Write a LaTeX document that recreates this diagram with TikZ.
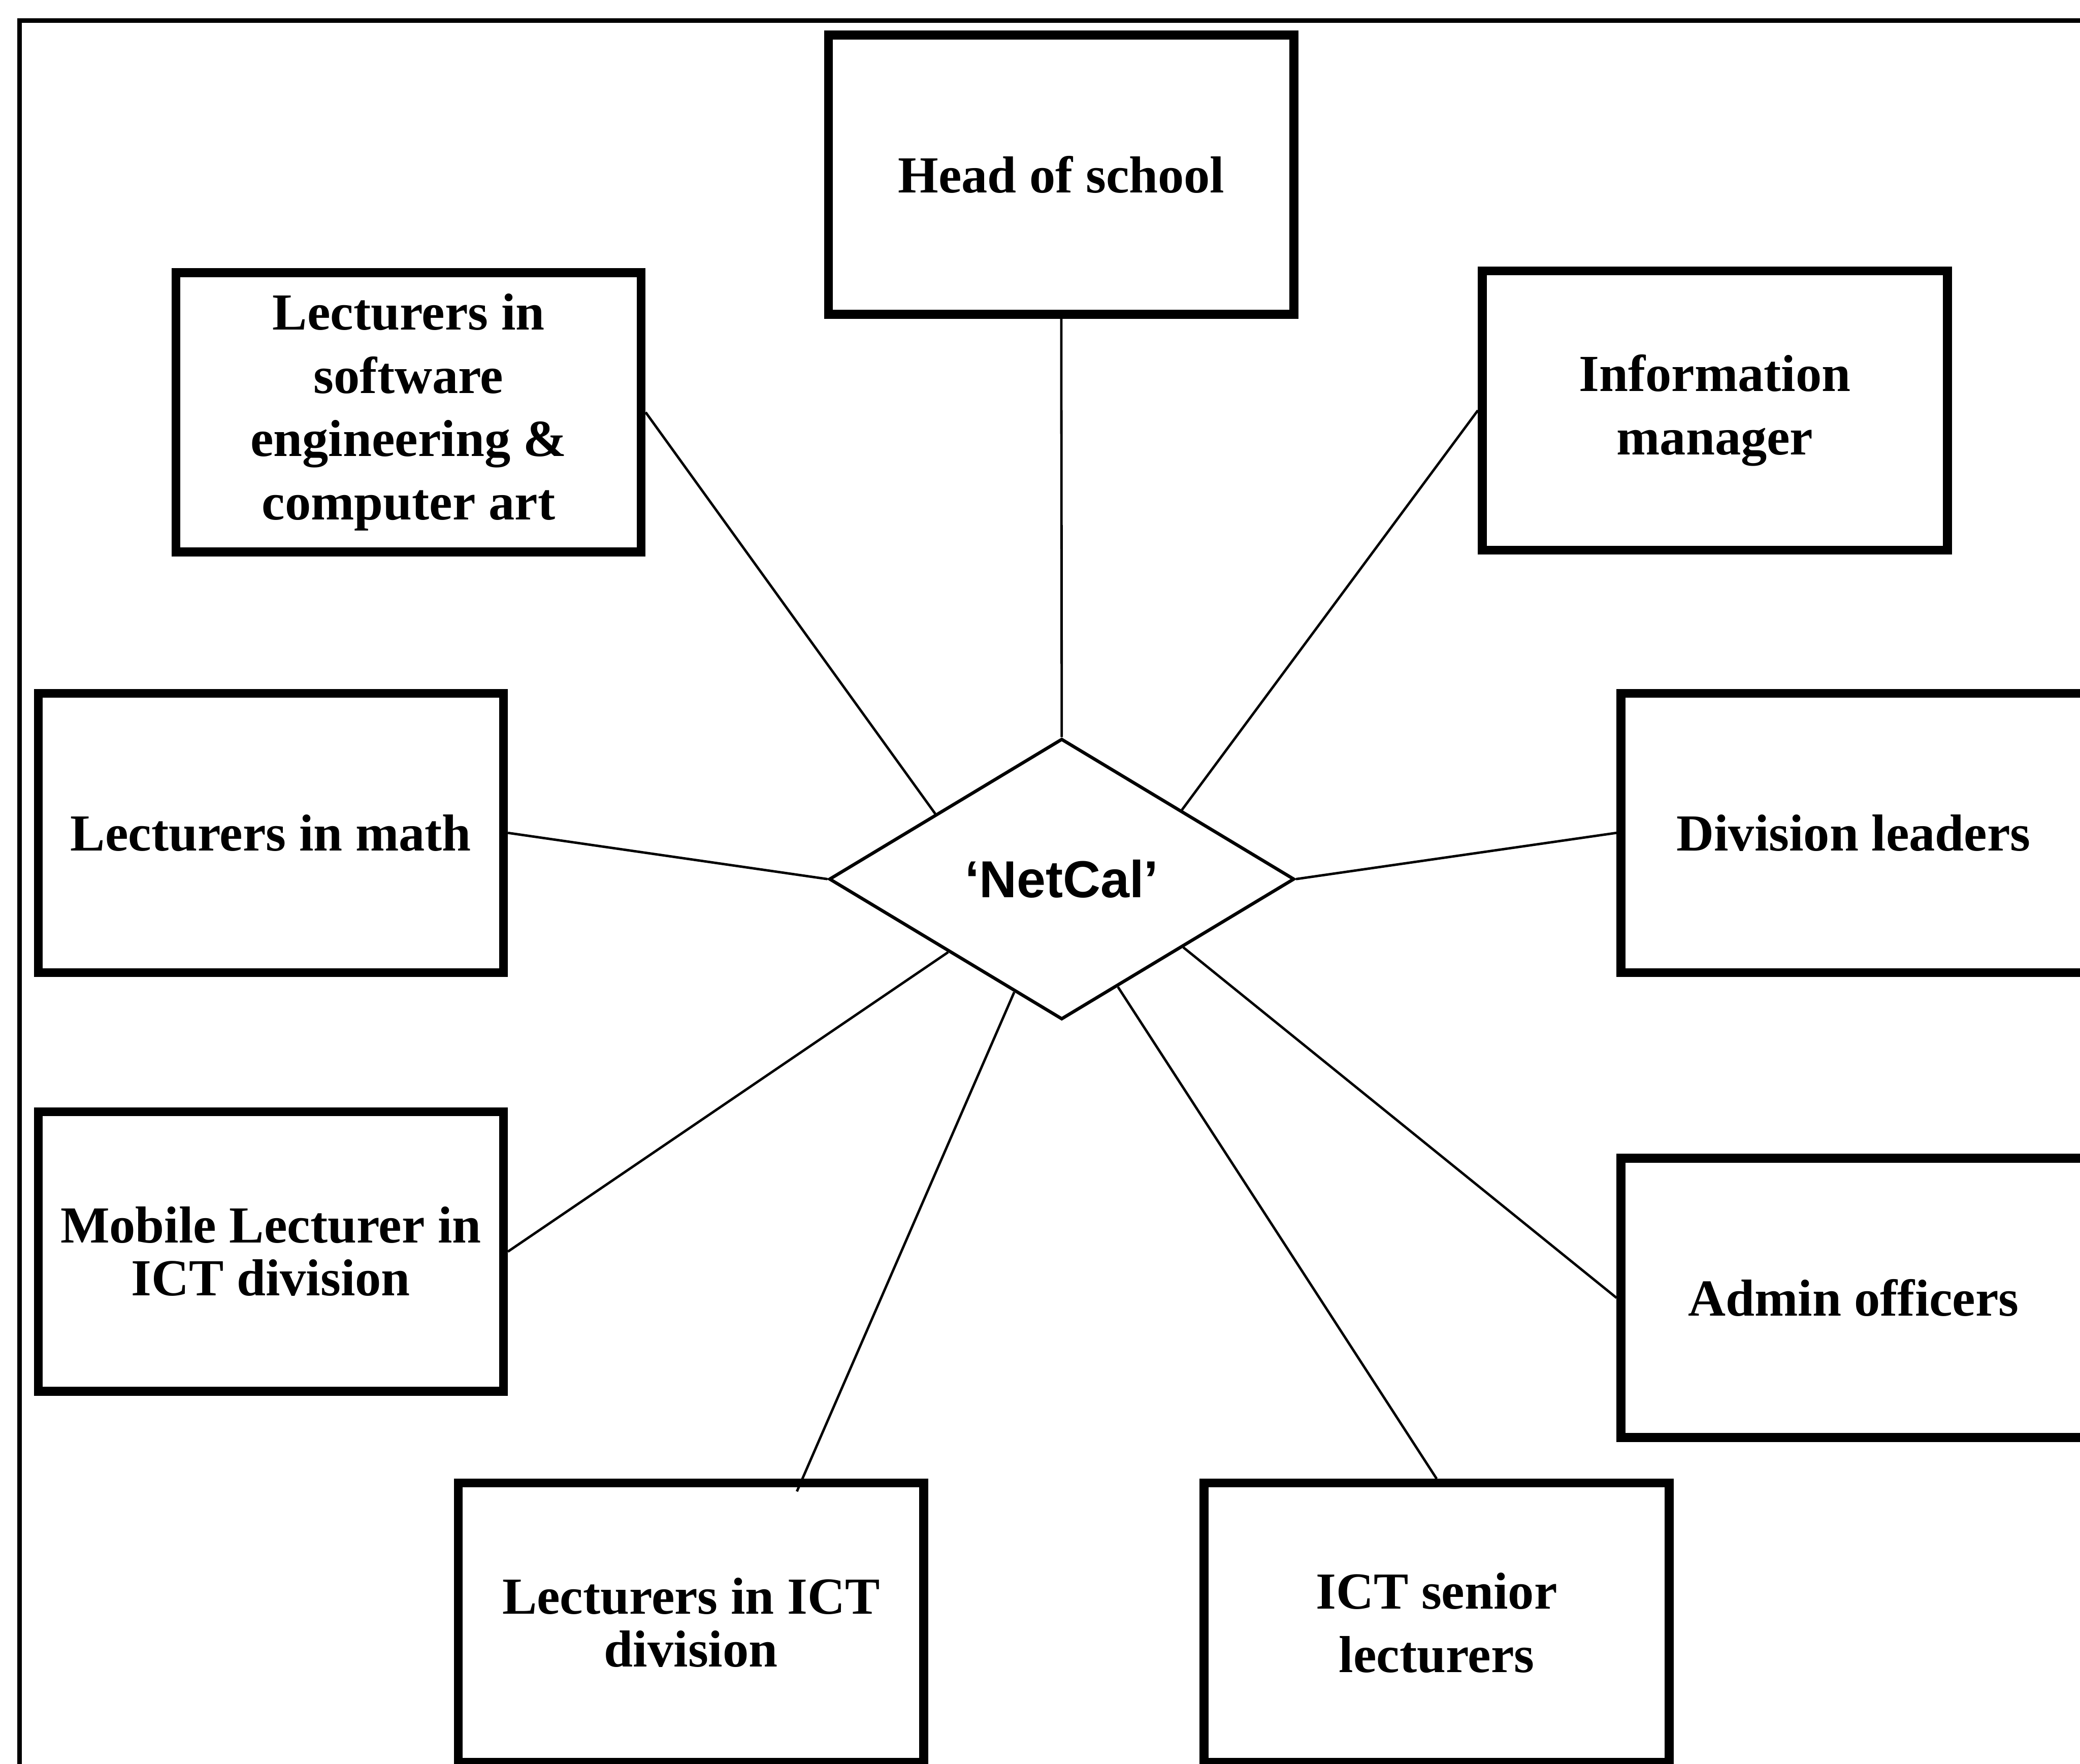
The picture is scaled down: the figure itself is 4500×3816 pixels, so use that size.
\documentclass[tikz,border=0pt]{standalone}
\usepackage{fontspec}
\setmainfont{Liberation Serif}
\newfontfamily\labelsans{Liberation Sans}
\usetikzlibrary{shapes.geometric,calc}

\begin{document}
\begin{tikzpicture}[x=0.01cm,y=-0.01cm,
  role/.style={draw, line width=5.4pt, minimum width=10.06cm, minimum height=6.04cm,
    align=center, inner sep=0pt, font=\fontsize{32}{39}\bfseries\selectfont},
  tightrole/.style={role, font=\fontsize{32}{32.5}\bfseries\selectfont},
  hub/.style={draw, diamond, line width=2pt, minimum width=10.06cm, minimum height=6.07cm,
    inner sep=0pt, font=\labelsans\fontsize{32}{38}\bfseries\selectfont},
  connector/.style={line width=1.5pt},
  outerframe/.style={line width=2.8pt}]

  \useasboundingbox (0,0) rectangle (4500,3816);
  \clip (0,0) rectangle (4500,3816);

  % surrounding frame (open to the right and bottom)
  \draw[outerframe] (42,3840) -- (42,45) -- (4520,45);

  % stakeholder boxes
  \node[role] (head) at (2296,378) {Head of school};
  \node[role] (soft) at (884,892) {Lecturers in\\software\\engineering \&\\computer art};
  \node[role] (info) at (3710,888) {Information\\manager};
  \node[role] (math) at (586,1802) {Lecturers in math};
  \node[role] (div) at (4010,1802) {Division leaders};
  \node[tightrole] (mob) at (586,2708) {Mobile Lecturer in\\ICT division};
  \node[role] (adm) at (4010,2808) {Admin officers};
  \node[tightrole] (ictl) at (1495,3511) {Lecturers in ICT\\division};
  \node[role] (icts) at (3108,3511) {ICT senior\\lecturers};

  % central hub
  \node[hub] (nc) at (2297,1902) {‘NetCal’};

  % spokes
  \draw[connector] (head.south) -- (nc.north);
  \draw[connector] (soft.east) -- ($(nc.west)!0.46!(nc.north)$);
  \draw[connector] (info.west) -- ($(nc.north)!0.513!(nc.east)$);
  \draw[connector] (math.east) -- (nc.west);
  \draw[connector] (div.west) -- (nc.east);
  \draw[connector] (mob.east) -- ($(nc.west)!0.515!(nc.south)$);
  \draw[connector] (adm.west) -- ($(nc.east)!0.481!(nc.south)$);
  \draw[connector, shorten >=-0.3cm] ($(nc.west)!0.797!(nc.south)$) -- ($(ictl.north west)!0.735!(ictl.north east)$);
  \draw[connector] ($(nc.east)!0.76!(nc.south)$) -- (icts.north);
\end{tikzpicture}
\end{document}
